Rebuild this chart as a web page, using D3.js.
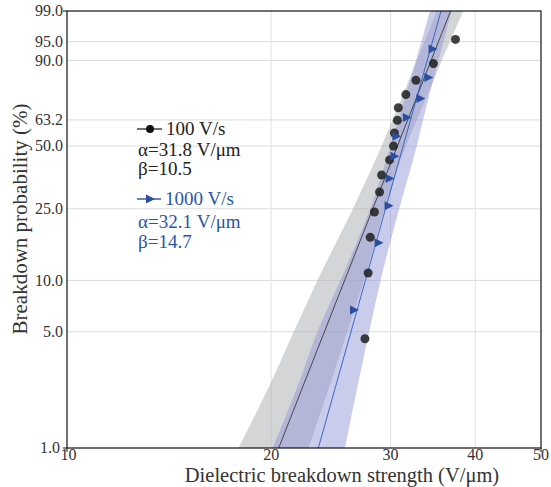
<!DOCTYPE html>
<html>
<head>
<meta charset="utf-8">
<script src="https://cdn.jsdelivr.net/npm/d3@7"></script>
<style>
  body { margin: 0; background: #fff; }
  text { font-family: "Liberation Serif", "Times New Roman", serif; }
</style>
</head>
<body>
<svg id="chart" width="551" height="487"></svg>
<script>
// data
var probTicks = [1.0, 5.0, 10.0, 25.0, 50.0, 63.2, 90.0, 95.0, 99.0];
var strengthTicks = [10, 20, 30, 40, 50];

// 100 V/s, 15 samples (median ranks)
var slowValues = [27.5, 27.8, 28.0, 28.4, 28.9, 29.1, 29.9, 30.3, 30.4, 30.7, 30.8, 31.6, 32.7, 34.7, 37.4];
var slowFit = { alpha: 31.8, beta: 10.5 };
// 1000 V/s, 10 samples
var fastValues = [26.5, 28.8, 29.8, 29.9, 30.4, 30.6, 31.7, 33.2, 34.1, 34.6];
var fastFit = { alpha: 32.1, beta: 14.7 };

// confidence band edges (probability %, lower, upper)
var bandProb = [1, 2.5, 5, 10, 25, 50, 63.2, 90, 99];
var slowBandLo = [17.9, 20.0, 21.6, 23.4, 26.4, 29.1, 30.2, 32.8, 35.1];
var slowBandHi = [22.7, 24.5, 25.9, 27.4, 29.4, 31.6, 32.8, 35.7, 38.4];
var fastBandLo = [20.1, 22.0, 23.4, 25.3, 28.0, 30.0, 30.8, 32.7, 34.3];
var fastBandHi = [25.7, 26.9, 27.9, 29.0, 30.9, 32.8, 33.5, 35.3, 36.9];

var svg = d3.select("#chart");
var margin = { top: 11, right: 10, bottom: 39, left: 67 };
var W = 551 - margin.left - margin.right;
var H = 487 - margin.top - margin.bottom;

// weibull probability transform
function weibit(p) { return Math.log(-Math.log(1 - p / 100)); }
function medianRank(i, n) { return (i + 1 - 0.3) / (n + 0.4) * 100; }

var x = d3.scaleLog().domain([10, 50]).range([margin.left, margin.left + W]);
var yw = d3.scaleLinear().domain([weibit(1), weibit(99)]).range([margin.top + H, margin.top]);
function y(p) { return yw(weibit(p)); }

var defs = svg.append("defs");
defs.append("clipPath").attr("id", "clip")
  .append("rect")
  .attr("x", margin.left).attr("y", margin.top)
  .attr("width", W).attr("height", H);

// grid
var grid = svg.append("g");
grid.selectAll("line.h")
  .data(probTicks.slice(1, -1))
  .enter().append("line")
  .attr("x1", margin.left).attr("x2", margin.left + W)
  .attr("y1", function(d) { return y(d); })
  .attr("y2", function(d) { return y(d); })
  .attr("stroke", "#dcdcdc").attr("stroke-width", 1);
grid.selectAll("line.v")
  .data(strengthTicks.slice(1, -1))
  .enter().append("line")
  .attr("y1", margin.top).attr("y2", margin.top + H)
  .attr("x1", function(d) { return x(d); })
  .attr("x2", function(d) { return x(d); })
  .attr("stroke", "#e2e2e2").attr("stroke-width", 1);

var plot = svg.append("g").attr("clip-path", "url(#clip)");

function band(lo, hi) {
  return bandProb.map(function(p, i) { return { p: p, lo: lo[i], hi: hi[i] }; });
}
var area = d3.area()
  .y(function(d) { return y(d.p); })
  .x0(function(d) { return x(d.lo); })
  .x1(function(d) { return x(d.hi); })
  .curve(d3.curveMonotoneY);

plot.append("path")
  .datum(band(slowBandLo, slowBandHi))
  .attr("d", area)
  .attr("fill", "#aaacaf").attr("fill-opacity", 0.5);
plot.append("path")
  .datum(band(fastBandLo, fastBandHi))
  .attr("d", area)
  .attr("fill", "#9094d6").attr("fill-opacity", 0.48);

// fitted lines
function fitLine(fit) {
  return [0.5, 99.9].map(function(p) {
    return { x: fit.alpha * Math.exp(weibit(p) / fit.beta), p: p };
  });
}
var line = d3.line()
  .x(function(d) { return x(d.x); })
  .y(function(d) { return y(d.p); });

plot.append("path").datum(fitLine(slowFit)).attr("d", line)
  .attr("fill", "none").attr("stroke", "#3a3a3a").attr("stroke-width", 0.9);
plot.append("path").datum(fitLine(fastFit)).attr("d", line)
  .attr("fill", "none").attr("stroke", "#2a5cc0").attr("stroke-width", 0.9);

// points
plot.selectAll("circle")
  .data(slowValues)
  .enter().append("circle")
  .attr("cx", function(d) { return x(d); })
  .attr("cy", function(d, i) { return y(medianRank(i, slowValues.length)); })
  .attr("r", 4.5)
  .attr("fill", "#1e1e1e").attr("fill-opacity", 0.85);

var tri = "M-4,-4.5L5,0L-4,4.5Z";
plot.selectAll("path.tri")
  .data(fastValues)
  .enter().append("path")
  .attr("class", "tri")
  .attr("d", tri)
  .attr("transform", function(d, i) {
    return "translate(" + x(d) + "," + y(medianRank(i, fastValues.length)) + ")";
  })
  .attr("fill", "#2a4fa0");

// frame
svg.append("rect")
  .attr("x", margin.left).attr("y", margin.top)
  .attr("width", W).attr("height", H)
  .attr("fill", "none").attr("stroke", "#111").attr("stroke-width", 1.2);

// end ticks only
svg.append("line").attr("x1", margin.left - 4).attr("x2", margin.left)
  .attr("y1", y(1)).attr("y2", y(1)).attr("stroke", "#111");
svg.append("line").attr("x1", margin.left - 4).attr("x2", margin.left)
  .attr("y1", y(99)).attr("y2", y(99)).attr("stroke", "#111");
svg.append("line").attr("x1", x(10)).attr("x2", x(10))
  .attr("y1", margin.top + H).attr("y2", margin.top + H + 4).attr("stroke", "#111");
svg.append("line").attr("x1", x(50)).attr("x2", x(50))
  .attr("y1", margin.top + H).attr("y2", margin.top + H + 4).attr("stroke", "#111");

// tick labels (the corner pair nudged apart)
svg.append("g").selectAll("text")
  .data(probTicks)
  .enter().append("text")
  .attr("x", function(d) { return d === 1 ? margin.left - 7 : margin.left - 4; })
  .attr("y", function(d) { return y(d); })
  .attr("dy", "0.33em")
  .attr("text-anchor", "end")
  .attr("fill", "#333")
  .style("font-size", "16px")
  .text(function(d) { return d.toFixed(1); });

svg.append("g").selectAll("text")
  .data(strengthTicks)
  .enter().append("text")
  .attr("x", function(d) { return d === 10 ? x(d) + 1.5 : x(d); })
  .attr("y", margin.top + H + 12)
  .attr("text-anchor", "middle")
  .attr("fill", "#333")
  .style("font-size", "16px")
  .text(function(d) { return d; });

// axis titles
svg.append("text")
  .attr("x", 342).attr("y", 482)
  .attr("text-anchor", "middle")
  .attr("fill", "#333")
  .style("font-size", "20.5px")
  .text("Dielectric breakdown strength (V/\u03bcm)");

svg.append("text")
  .attr("transform", "translate(27,219) rotate(-90)")
  .attr("text-anchor", "middle")
  .attr("fill", "#333")
  .style("font-size", "21px")
  .text("Breakdown probability (%)");

// legend
var legend = svg.append("g");
legend.append("line").attr("x1", 137).attr("x2", 162).attr("y1", 129).attr("y2", 129)
  .attr("stroke", "#111").attr("stroke-width", 1.2);
legend.append("circle").attr("cx", 150).attr("cy", 129).attr("r", 4).attr("fill", "#111");
legend.append("line").attr("x1", 137).attr("x2", 161).attr("y1", 199).attr("y2", 199)
  .attr("stroke", "#2a4fa0").attr("stroke-width", 1.4);
legend.append("path").attr("d", tri).attr("transform", "translate(150,199)").attr("fill", "#2a4fa0");

var legendRows = [
  { x: 166, y: 135, c: "#222", t: "100 V/s" },
  { x: 138, y: 156, c: "#222", t: "\u03b1=31.8 V/\u03bcm" },
  { x: 138, y: 175, c: "#222", t: "\u03b2=10.5" },
  { x: 165, y: 205, c: "#2a55a8", t: "1000 V/s" },
  { x: 138, y: 228, c: "#2a55a8", t: "\u03b1=32.1 V/\u03bcm" },
  { x: 138, y: 248, c: "#2a55a8", t: "\u03b2=14.7" }
];
legend.selectAll("text")
  .data(legendRows)
  .enter().append("text")
  .attr("x", function(d) { return d.x; })
  .attr("y", function(d) { return d.y; })
  .attr("fill", function(d) { return d.c; })
  .style("font-size", "19px")
  .text(function(d) { return d.t; });
</script>
</body>
</html>
